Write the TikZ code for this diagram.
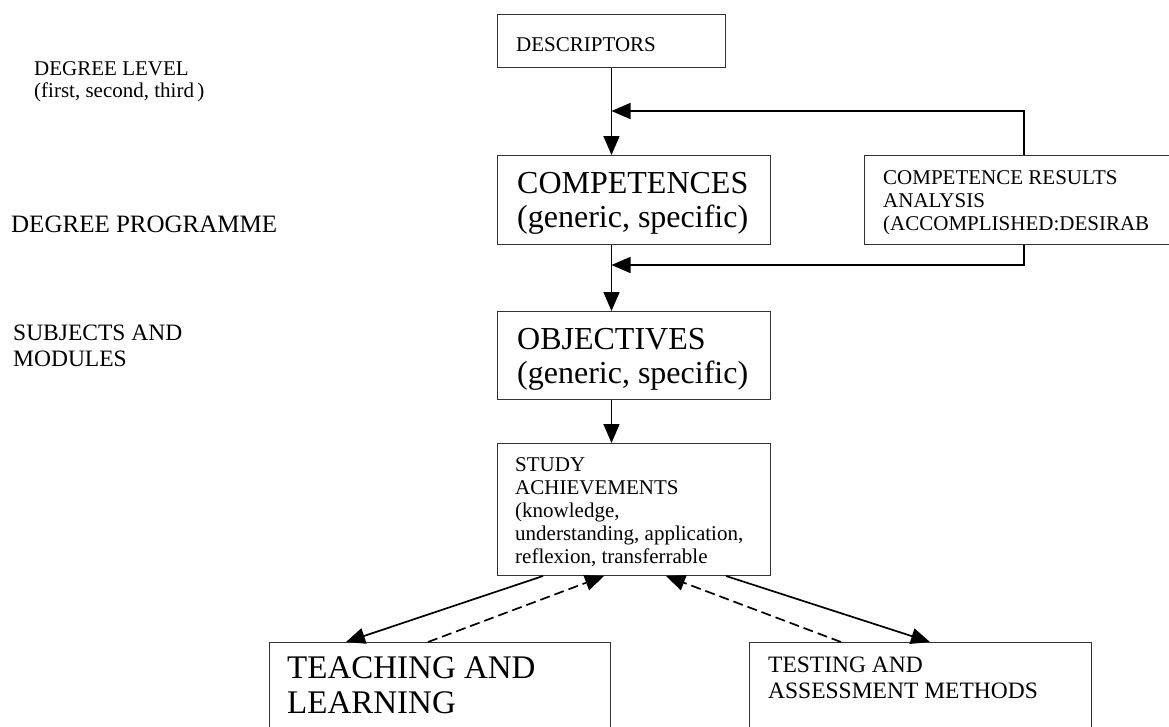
\documentclass[tikz,border=0pt]{standalone}
\usepackage{fontspec}
\setmainfont{Liberation Serif}
\usetikzlibrary{arrows.meta}
\newcommand\fsz[1]{\fontsize{#1pt}{#1pt}\selectfont}
\begin{document}
\begin{tikzpicture}[x=1pt,y=-1pt,
  box/.style={draw=black!80, line width=1pt, inner sep=0pt, anchor=north west},
  txt/.style={inner sep=0pt, anchor=base west, text=black},
  small/.style={font=\fsz{21}},
  mid/.style={font=\fsz{23.5}},
  big/.style={font=\fsz{32}},
  arr/.style={line width=1.7pt, -{Triangle[length=19pt,width=16pt]}},
  darr/.style={arr, dash pattern=on 10pt off 5pt}]
\clip (0,0) rectangle (1169,726);
\fill[white] (0,0) rectangle (1169,726);

% boxes
\node[box, minimum width=228pt, minimum height=53pt] (desc) at (497,14) {};
\node[box, minimum width=273pt, minimum height=89pt] (comp) at (497,155) {};
\node[box, minimum width=305pt, minimum height=89pt] (cr) at (864,155) {};
\node[box, minimum width=273pt, minimum height=88pt] (obj) at (497,311) {};
\node[box, minimum width=273pt, minimum height=132pt] (study) at (497,443) {};
\node[box, minimum width=341pt, minimum height=110pt] (teach) at (269,642) {};
\node[box, minimum width=342pt, minimum height=110pt] (test) at (749,642) {};

% left labels
\node[txt, small] (l1a) at (34,75) {DEGREE LEVEL};
\node[txt, small] (l1b) at (34,97) {(first, second, third\thinspace)};
\node[txt, font=\fsz{25}] (l2) at (11,232) {DEGREE PROGRAMME};
\node[txt, mid] (l3a) at (13,340) {SUBJECTS AND};
\node[txt, mid] (l3b) at (13,366) {MODULES};

% box texts
\node[txt, small] (tdesc) at (516,51) {DESCRIPTORS};
\node[txt, big] (tcomp1) at (517,193) {COMPETENCES};
\node[txt, big] (tcomp2) at (517,227) {(generic, specific)};
\node[txt, small] (tcr1) at (883,184) {COMPETENCE RESULTS};
\node[txt, small] (tcr2) at (883,207) {ANALYSIS};
\node[txt, small] (tcr3) at (883,230) {(ACCOMPLISHED:DESIRAB};
\node[txt, big] (tobj1) at (517,349) {OBJECTIVES};
\node[txt, big] (tobj2) at (517,383) {(generic, specific)};
\node[txt, small] (ts1) at (515,471) {STUDY};
\node[txt, small] (ts2) at (515,494) {ACHIEVEMENTS};
\node[txt, small] (ts3) at (515,517) {(knowledge,};
\node[txt, small] (ts4) at (515,540) {understanding, application,};
\node[txt, small] (ts5) at (515,563) {reflexion, transferrable};
\node[txt, font=\fsz{33}] (tt1) at (287,678) {TEACHING AND};
\node[txt, font=\fsz{33}] (tt2) at (287,713) {LEARNING};
\node[txt, mid] (te1) at (768,672) {TESTING AND};
\node[txt, mid] (te2) at (768,698) {ASSESSMENT METHODS};

% main vertical flow
\draw[arr] (desc.south) -- (desc.south |- comp.north);
\draw[arr] (comp.south -| desc.south) -- (obj.north -| desc.south);
\draw[arr] (obj.south -| desc.south) -- (study.north -| desc.south);

% feedback loops
\coordinate (fb1) at (1024,111);
\coordinate (fb2) at (1024,265);
\draw[arr] (cr.north -| fb1) -- (fb1) -- (fb1 -| desc.south);
\draw[arr] (cr.south -| fb2) -- (fb2) -- (fb2 -| desc.south);

% study <-> methods
\draw[arr] ([xshift=46pt]study.south west) -- ([xshift=77pt]teach.north west);
\draw[darr] ([xshift=159pt]teach.north west) -- ([xshift=107pt]study.south west);
\draw[darr] ([xshift=92pt]test.north west) -- ([xshift=169pt]study.south west);
\draw[arr] ([xshift=229pt]study.south west) -- ([xshift=181pt]test.north west);
\end{tikzpicture}
\end{document}
